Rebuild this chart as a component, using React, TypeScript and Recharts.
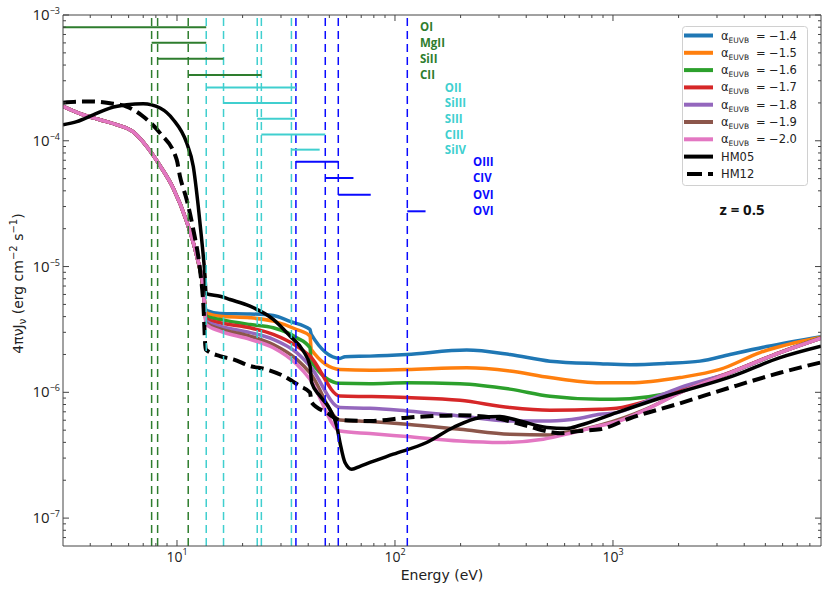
import React from "react";
import { LineChart, Line, XAxis, YAxis, ReferenceLine, ReferenceDot, Legend } from "recharts";

type Pt = [number, number];

// below the HI edge every alpha model shares the same soft spectrum
const softSpectrum: Pt[] = [
  [3.0, 1.88e-4], [3.71, 1.61e-4], [4.43, 1.47e-4], [5.31, 1.34e-4], [6.28, 1.18e-4],
  [7.28, 8.96e-5], [8.36, 6.34e-5], [9.59, 4.24e-5], [11.08, 2.28e-5], [12.31, 1.22e-5], [13.2, 6.68e-6],
];

const alpha14: Pt[] = [
  [13.6, 4.48e-6], [15.75, 4.24e-6], [21.62, 4.2e-6], [27.65, 4.08e-6], [32.99, 3.66e-6], [40.75, 3.16e-6],
  [41.3, 2.89e-6], [55.94, 1.86e-6], [58.97, 1.92e-6], [76.81, 1.94e-6], [113.2, 2.0e-6], [213.2, 2.17e-6],
  [337, 2.0e-6], [514, 1.77e-6], [871.8, 1.69e-6], [1197, 1.66e-6], [1764, 1.7e-6], [2507, 1.77e-6],
  [3441, 2.0e-6], [5070, 2.31e-6], [9000, 2.77e-6],
];
const alpha15: Pt[] = [
  [13.6, 4.29e-6], [15.75, 4.03e-6], [21.62, 3.92e-6], [27.65, 3.68e-6], [35.41, 3.16e-6], [40.75, 2.8e-6],
  [41.3, 2.19e-6], [55.94, 1.52e-6], [76.81, 1.5e-6], [113.2, 1.52e-6], [213.2, 1.57e-6], [337, 1.48e-6],
  [514, 1.31e-6], [871.8, 1.19e-6], [1197, 1.19e-6], [2029, 1.31e-6], [3096, 1.52e-6], [4724, 2.07e-6],
  [9000, 2.74e-6],
];
const alpha16: Pt[] = [
  [13.6, 4.03e-6], [15.75, 3.8e-6], [21.62, 3.46e-6], [27.65, 3.26e-6], [35.41, 2.72e-6], [40.75, 2.26e-6],
  [41.3, 1.76e-6], [55.94, 1.18e-6], [76.81, 1.17e-6], [113.2, 1.19e-6], [198.7, 1.17e-6], [337, 1.06e-6],
  [514, 9.3e-7], [871.8, 8.8e-7], [1197, 8.91e-7], [1701, 9.64e-7], [2421, 1.16e-6], [3441, 1.43e-6],
  [5836, 2.07e-6], [9000, 2.72e-6],
];
const alpha17: Pt[] = [
  [13.6, 3.85e-6], [15.75, 3.57e-6], [21.62, 3.26e-6], [27.65, 2.89e-6], [35.41, 2.33e-6], [40.75, 1.94e-6],
  [55.94, 9.35e-7], [76.81, 9.25e-7], [113.2, 9.08e-7], [198.7, 8.64e-7], [337, 7.56e-7], [514, 7.2e-7],
  [871.8, 7.33e-7], [1040, 7.47e-7], [1428, 8.53e-7], [2029, 1.06e-6], [3441, 1.44e-6], [5836, 2.08e-6],
  [9000, 2.7e-6],
];
const alpha18: Pt[] = [
  [13.6, 3.68e-6], [15.75, 3.36e-6], [21.62, 2.98e-6], [27.65, 2.64e-6], [35.41, 2.07e-6], [40.75, 1.62e-6],
  [55.94, 7.56e-7], [76.81, 7.47e-7], [113.2, 7.11e-7], [198.7, 6.48e-7], [337, 5.92e-7], [514, 5.92e-7],
  [705.9, 6.22e-7], [871.8, 6.69e-7], [1040, 6.9e-7], [1428, 8.53e-7], [2029, 1.09e-6], [3441, 1.43e-6],
  [5836, 2.07e-6], [9000, 2.7e-6],
];
const alpha19: Pt[] = [
  [13.6, 3.57e-6], [15.75, 3.2e-6], [21.62, 2.8e-6], [27.65, 2.4e-6], [35.41, 1.83e-6], [40.75, 1.43e-6],
  [55.94, 6.03e-7], [76.81, 5.85e-7], [113.2, 5.57e-7], [198.7, 5.08e-7], [337, 4.64e-7], [514, 4.58e-7],
  [571.3, 4.73e-7], [705.9, 5.0e-7], [871.8, 5.47e-7], [1428, 7.39e-7], [2029, 9.95e-7], [3441, 1.43e-6],
  [5836, 2.07e-6], [9000, 2.7e-6],
];
const alpha20: Pt[] = [
  [13.6, 3.46e-6], [15.75, 3.07e-6], [21.62, 2.64e-6], [27.65, 2.26e-6], [35.41, 1.67e-6], [40.75, 1.27e-6],
  [55.94, 4.93e-7], [76.81, 4.7e-7], [113.2, 4.45e-7], [198.7, 4.1e-7], [303, 3.99e-7], [478.6, 4.24e-7],
  [657.7, 4.79e-7], [871.8, 5.42e-7], [1040, 5.83e-7], [1428, 7.33e-7], [2029, 9.95e-7], [3441, 1.43e-6],
  [5836, 2.07e-6], [9000, 2.7e-6],
];

const hm05: Pt[] = [
  [3.0, 1.34e-4], [3.47, 1.42e-4], [4.13, 1.61e-4], [4.93, 1.82e-4], [5.88, 1.93e-4], [7.0, 1.97e-4],
  [8.36, 1.82e-4], [9.62, 1.47e-4], [11.08, 9.59e-5], [11.88, 6.25e-5], [12.52, 3.01e-5], [12.98, 1.64e-5],
  [13.44, 8.38e-6], [13.6, 6.1e-6], [15.75, 5.81e-6], [17.51, 5.47e-6], [21.62, 4.84e-6], [27.65, 3.8e-6],
  [32.99, 2.8e-6], [37.97, 2.13e-6], [40.75, 1.62e-6], [41.49, 1.19e-6], [45.29, 9.35e-7], [50.31, 7.33e-7],
  [54.03, 5.41e-7], [55.94, 3.99e-7], [58.97, 2.77e-7], [63.31, 2.45e-7], [69.09, 2.58e-7], [76.81, 2.77e-7],
  [98.2, 3.22e-7], [139.7, 3.99e-7], [185.1, 5.25e-7], [245.4, 6.29e-7], [303.1, 6.41e-7],
  [374.5, 5.92e-7], [496.5, 5.25e-7], [613.3, 5.15e-7], [705.9, 5.47e-7], [1040, 6.9e-7], [1764, 9.35e-7],
  [3562, 1.35e-6], [5836, 1.89e-6], [9000, 2.33e-6],
];
const hm12: Pt[] = [
  [3.0, 2.01e-4], [3.59, 2.05e-4], [4.13, 2.05e-4], [4.93, 1.99e-4], [5.88, 1.87e-4], [7.0, 1.56e-4],
  [8.36, 1.15e-4], [9.97, 7.07e-5], [10.32, 5.21e-5], [11.08, 3.4e-5], [11.88, 1.97e-5], [12.75, 9.47e-6],
  [13.2, 5.15e-6], [13.55, 2.19e-6], [15.75, 1.94e-6], [18.13, 1.83e-6], [21.62, 1.62e-6], [25.79, 1.52e-6],
  [30.73, 1.35e-6], [36.67, 1.12e-6], [40.75, 9.95e-7], [41.49, 8.28e-7], [48.62, 6.9e-7], [55.94, 6.03e-7],
  [76.81, 5.92e-7], [113.2, 6.29e-7], [198.7, 6.56e-7], [282.4, 6.29e-7], [401.9, 5.41e-7], [532.2, 4.79e-7],
  [571.3, 4.73e-7], [705.9, 4.93e-7], [871.8, 5.08e-7], [1197, 6.22e-7], [2029, 8.18e-7], [3441, 1.09e-6],
  [5836, 1.43e-6], [9000, 1.73e-6],
];

const alphaValues = ["−1.4", "−1.5", "−1.6", "−1.7", "−1.8", "−1.9", "−2.0"];
const alphaColors = ["#1f77b4", "#ff7f0e", "#2ca02c", "#d62728", "#9467bd", "#8c564b", "#e377c2"];
const alphaSeries = [alpha14, alpha15, alpha16, alpha17, alpha18, alpha19, alpha20];

// ion existence ranges (eV) and the flux level where each bar is drawn
const ionNames = ["OI", "MgII", "SiII", "CII", "OII", "SiIII", "SIII", "CIII", "SiIV", "OIII", "CIV", "OVI", "OVI"];
const ionLow = [3, 7.65, 8.15, 11.26, 13.62, 16.35, 23.34, 24.38, 33.49, 35.12, 47.89, 54.94, 113.9];
const ionHigh = [13.62, 13.62, 16.35, 24.38, 35.12, 33.49, 34.79, 47.89, 45.14, 54.94, 64.49, 77.41, 138.1];
const ionLevel = [8.0e-4, 6.03e-4, 4.48e-4, 3.34e-4, 2.65e-4, 2.0e-4, 1.5e-4, 1.12e-4, 8.5e-5, 6.8e-5, 5.06e-5, 3.73e-5, 2.75e-5];
const ionGroup = [0, 0, 0, 0, 1, 1, 1, 1, 1, 2, 2, 2, 2];

const groupColors = ["#2e7d2e", "#40cfcf", "#0a0aff"];
const groupLabelE = [128.9, 167.5, 225.6];

const AX = "#444";
const TXT = "#222";
const SANS = "'Open Sans', 'DejaVu Sans', sans-serif";
const DEJA = "'DejaVu Sans', sans-serif";

const toPts = (arr: Pt[]) => arr.map(([e, v]) => ({ e, v }));
const isMajor = (v: number) => Math.abs(Math.log10(v) - Math.round(Math.log10(v))) < 1e-6;
const mant = [1, 2, 3, 4, 5, 6, 7, 8, 9];
const xTicks = [0, 1, 2, 3].flatMap((d) => mant.map((m) => m * 10 ** d)).filter((v) => v > 3.01 && v < 8999);
const yTicks = [-8, -7, -6, -5, -4].flatMap((d) => mant.map((m) => m * 10 ** d)).concat([1e-3]).filter((v) => v > 6.01e-8);

function BottomTick({ x, y, payload }: any) {
  const major = isMajor(payload.value);
  const p = Math.round(Math.log10(payload.value));
  return <g>
    <line x1={x} x2={x} y1={y} y2={y - (major ? 6 : 3)} stroke={AX} />
    {major && <text x={x} y={y + 16} textAnchor="middle" fontSize={14} fontFamily={SANS} fill={TXT}>10<tspan dy={-7} fontSize={9}>{p}</tspan></text>}
  </g>;
}
function TopTick({ x, y, payload }: any) {
  return <line x1={x} x2={x} y1={y} y2={y + (isMajor(payload.value) ? 6 : 3)} stroke={AX} />;
}
function LeftTick({ x, y, payload }: any) {
  const major = isMajor(payload.value);
  const p = Math.round(Math.log10(payload.value));
  return <g>
    <line x1={x} x2={x + (major ? 6 : 3)} y1={y} y2={y} stroke={AX} />
    {major && <text x={x - 3} y={y + 5} textAnchor="end" fontSize={15} fontFamily={SANS} fill={TXT}>10<tspan dy={-6} fontSize={9}>{"−" + -p}</tspan></text>}
  </g>;
}
function RightTick({ x, y, payload }: any) {
  return <line x1={x} x2={x - (isMajor(payload.value) ? 6 : 3)} y1={y} y2={y} stroke={AX} />;
}

function YLabel(props: any) {
  const vb = props.viewBox ?? { x: 0, y: 15, width: 63, height: 531 };
  const cx = vb.x + 18;
  const cy = vb.y + vb.height / 2 + 3;
  return <text transform={`rotate(-90 ${cx} ${cy})`} x={cx} y={cy + 5} textAnchor="middle" fontSize={14} fontFamily={DEJA} fill={TXT}>
    4πνJ<tspan dy={3} fontSize={10}>ν</tspan><tspan dy={-3}> (erg cm</tspan><tspan dy={-6} fontSize={10}>−2</tspan><tspan dy={6}> s</tspan><tspan dy={-6} fontSize={10}>−1</tspan><tspan dy={6}>)</tspan>
  </text>;
}

const legendRows = [
  ...alphaValues.map((a, i) => ({ alpha: a, color: alphaColors[i], dash: undefined as string | undefined })),
  { alpha: "", color: "#000", dash: undefined as string | undefined },
  { alpha: "", color: "#000", dash: "15 6" },
];
const legendNames = ["", "", "", "", "", "", "", "HM05", "HM12"];

function LegendBox() {
  return <svg width={127} height={161} style={{ display: "block" }}>
    <rect x={0.5} y={0.5} width={125} height={159} rx={3} fill="rgba(255,255,255,0.85)" stroke="#d0d0d0" />
    {legendRows.map((r, i) => {
      const cy = 9.5 + i * 17.3;
      return <g key={i}>
        <line x1={r.dash ? 5 : 2} x2={31} y1={cy} y2={cy} stroke={r.color} strokeWidth={4} strokeDasharray={r.dash} />
        {r.alpha ? <>
          <text x={39} y={cy + 4} fontSize={11.5} fontFamily={DEJA} fill={TXT}>α<tspan dy={3} fontSize={7.5}>EUVB</tspan></text>
          <text x={74} y={cy + 4} fontSize={11.5} fontFamily={DEJA} fill={TXT}>=</text>
          <text x={87} y={cy + 4} fontSize={11.5} fontFamily={DEJA} fill={TXT}>{r.alpha}</text>
        </> : <text x={39} y={cy + 4} fontSize={11.5} fontFamily={DEJA} fill={TXT}>{legendNames[i]}</text>}
      </g>;
    })}
  </svg>;
}

export default function App() {
  return <div style={{ width: 830, height: 593, background: "#fff" }}>
    <style>{"body{margin:0;background:#fff}"}</style>
    <LineChart width={830} height={593} margin={{ top: 14, right: 8, bottom: 17, left: 0 }}>
      <XAxis dataKey="e" type="number" scale="log" domain={[3, 9000]} allowDataOverflow ticks={xTicks} interval={0}
        height={30} tickSize={0} tickMargin={0} tickLine={false} axisLine={{ stroke: AX }} tick={<BottomTick />}
        label={{ value: "Energy (eV)", position: "insideBottom", offset: -4, fill: TXT, fontSize: 14, fontFamily: DEJA }} />
      <XAxis xAxisId="top" orientation="top" dataKey="e" type="number" scale="log" domain={[3, 9000]} allowDataOverflow
        ticks={xTicks} interval={0} height={1} tickSize={0} tickMargin={0} tickLine={false} axisLine={{ stroke: AX }} tick={<TopTick />} />
      <YAxis type="number" scale="log" domain={[6e-8, 1e-3]} allowDataOverflow ticks={yTicks} interval={0}
        width={63} tickSize={0} tickMargin={0} tickLine={false} axisLine={{ stroke: AX }} tick={<LeftTick />}
        label={{ content: (p: any) => <YLabel {...p} /> }} />
      <YAxis yAxisId="right" orientation="right" type="number" scale="log" domain={[6e-8, 1e-3]} allowDataOverflow
        ticks={yTicks} interval={0} width={1} tickSize={0} tickMargin={0} tickLine={false} axisLine={{ stroke: AX }} tick={<RightTick />} />

      {alphaSeries.map((s, i) => (
        <Line key={i} data={toPts([...softSpectrum, ...s])} dataKey="v" name={`alpha ${alphaValues[i]}`}
          type="monotone" stroke={alphaColors[i]} strokeWidth={3.5} dot={false} isAnimationActive={false} />
      ))}
      <Line data={toPts(hm05)} dataKey="v" name="HM05" type="monotone" stroke="#000" strokeWidth={3.5} dot={false} isAnimationActive={false} />
      <Line data={toPts(hm12)} dataKey="v" name="HM12" type="monotone" stroke="#000" strokeWidth={4} strokeDasharray="13 6" dot={false} isAnimationActive={false} />

      {ionLow.filter((e, i) => i > 0).map((e, i) => (
        <ReferenceLine key={"v" + i} x={e} stroke={groupColors[ionGroup[i + 1]]} strokeWidth={1.5} strokeDasharray="8 5" />
      ))}
      {ionNames.map((n, i) => (
        <ReferenceLine key={"h" + i} segment={[{ x: ionLow[i], y: ionLevel[i] }, { x: ionHigh[i], y: ionLevel[i] }]}
          stroke={groupColors[ionGroup[i]]} strokeWidth={2} ifOverflow="visible" />
      ))}
      {ionNames.map((n, i) => (
        <ReferenceDot key={"t" + i} x={groupLabelE[ionGroup[i]]} y={ionLevel[i]} r={1} fill="none" stroke="none"
          label={{ value: n, position: "right", offset: 0, fill: groupColors[ionGroup[i]], fontSize: 11.5, fontWeight: "bold", fontFamily: SANS }} />
      ))}
      <ReferenceDot x={3907} y={2.83e-5} r={1} fill="none" stroke="none"
        label={{ value: "z = 0.5", position: "center", offset: 0, fill: "#111", fontSize: 15, fontWeight: "bold", fontFamily: SANS }} />

      <Legend layout="vertical" align="center" verticalAlign="middle" wrapperStyle={{ left: 682, top: 26, width: 127, height: 161 }} content={<LegendBox />} />
    </LineChart>
  </div>;
}
